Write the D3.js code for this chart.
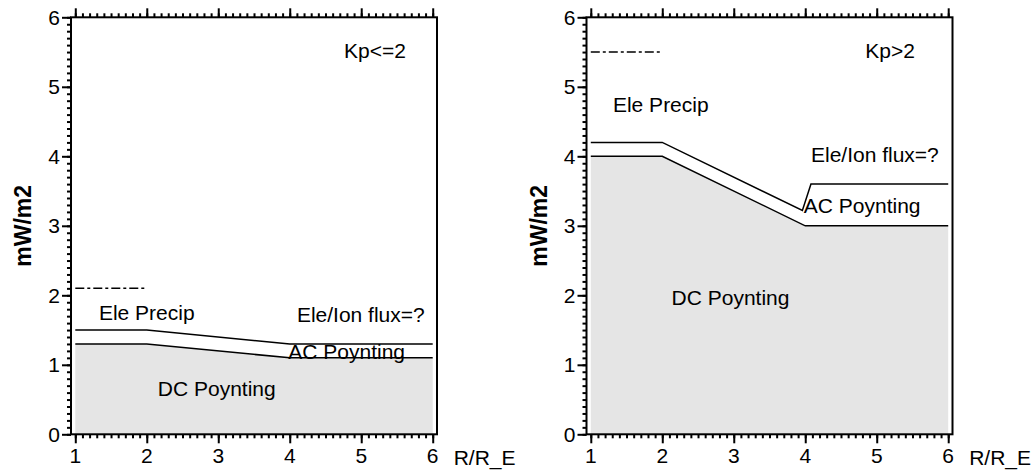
<!DOCTYPE html>
<html>
<head>
<meta charset="utf-8">
<script src="https://cdn.jsdelivr.net/npm/d3@7"></script>
<style>
  body { margin: 0; background: #fff; }
  svg { display: block; font-family: "Liberation Sans", Arial, sans-serif; }
  .axis path { display: none; }
  .axis line { stroke: #000; stroke-width: 2; }
  .curve { fill: none; stroke: #000; stroke-width: 1.5; }
</style>
</head>
<body>
<svg id="chart" width="1035" height="472"></svg>
<script>
var xTicks = [1, 2, 3, 4, 5, 6]
  , yTicks = [0, 1, 2, 3, 4, 5, 6]
  , xMinor = d3.range(10, 61).map(function(d) { return d / 10 })
  , yMinor = d3.range(0, 61).map(function(d) { return d / 10 })
  , xTitle = 'R/R_E'
  , yTitle = 'mW/m2'

// Kp<=2 : boundaries of the energy budget (R/R_E, mW/m2)
var quietDc = [[1, 1.3], [2, 1.3], [4, 1.1], [6, 1.1]]
  , quietAc = [[1, 1.5], [2, 1.5], [4, 1.3], [6, 1.3]]
  , quietPrecip = [[1, 2.1], [2, 2.1]]
  , quietLabels = [
      [4.76, 5.41, 'Kp<=2'],
      [1.33, 1.645, 'Ele Precip'],
      [4.10, 1.61, 'Ele/Ion flux=?'],
      [3.98, 1.09, 'AC Poynting'],
      [2.155, 0.55, 'DC Poynting']
    ]

// Kp>2
var activeDc = [[1, 4.0], [2, 4.0], [4, 3.0], [6, 3.0]]
  , activeAc = [[1, 4.2], [2, 4.2], [3.96, 3.22], [4.08, 3.6], [6, 3.6]]
  , activePrecip = [[1, 5.5], [2, 5.5]]
  , activeLabels = [
      [4.84, 5.41, 'Kp>2'],
      [1.31, 4.64, 'Ele Precip'],
      [4.08, 3.92, 'Ele/Ion flux=?'],
      [3.98, 3.18, 'AC Poynting'],
      [2.13, 1.86, 'DC Poynting']
    ]

var svg = d3.select('svg#chart')
  , width = 366
  , height = 417

var drawPanel = function(left, dc, ac, precip, labels) {
  var g = svg.append('g').attr('transform', 'translate(' + left + ',17.3)')
    , x = d3.scaleLinear().domain([0.94, 6.06]).range([0, width])
    , y = d3.scaleLinear().domain([0, 6]).range([height, 0])
    , line = d3.line().x(function(d) { return x(d[0]) }).y(function(d) { return y(d[1]) })
    , area = d3.area().x(function(d) { return x(d[0]) }).y0(y(0)).y1(function(d) { return y(d[1]) })

  // DC Poynting part is shaded
  g.append('path').datum(dc).attr('d', area).attr('fill', '#e5e5e5')
  g.append('path').datum(dc).attr('class', 'curve').attr('d', line)
  g.append('path').datum(ac).attr('class', 'curve').attr('d', line)
  g.append('path').datum(precip).attr('class', 'curve').attr('d', line)
    .attr('stroke-dasharray', '9,3,3,3')

  // minor then major ticks, no labels on the top axis
  g.append('g').attr('class', 'axis').call(d3.axisTop(x).tickValues(xMinor).tickSize(4).tickFormat(''))
  g.append('g').attr('class', 'axis').call(d3.axisTop(x).tickValues(xTicks).tickSize(9).tickFormat(''))
  g.append('g').attr('class', 'axis').attr('transform', 'translate(0,' + height + ')')
    .call(d3.axisBottom(x).tickValues(xMinor).tickSize(4).tickFormat(''))
  g.append('g').attr('class', 'axis').attr('transform', 'translate(0,' + height + ')')
    .call(d3.axisBottom(x).tickValues(xTicks).tickSize(9).tickFormat(''))
  g.append('g').attr('class', 'axis').call(d3.axisLeft(y).tickValues(yMinor).tickSize(4).tickFormat(''))
  g.append('g').attr('class', 'axis').call(d3.axisLeft(y).tickValues(yTicks).tickSize(9).tickFormat(''))

  g.selectAll('text.xlab').data(xTicks).enter().append('text')
    .attr('x', function(d) { return x(d) }).attr('y', height + 29)
    .attr('text-anchor', 'middle').attr('font-size', 21).text(function(d) { return d })
  g.selectAll('text.ylab').data(yTicks).enter().append('text')
    .attr('x', -11).attr('y', function(d) { return y(d) }).attr('dy', '0.36em')
    .attr('text-anchor', 'end').attr('font-size', 21).text(function(d) { return d })

  g.append('rect').attr('width', width).attr('height', height)
    .attr('fill', 'none').attr('stroke', '#000').attr('stroke-width', 2)

  g.selectAll('text.note').data(labels).enter().append('text')
    .attr('x', function(d) { return x(d[0]) }).attr('y', function(d) { return y(d[1]) })
    .attr('font-size', 21).text(function(d) { return d[2] })

  g.append('text').attr('x', x(6) + 21).attr('y', height + 31)
    .attr('font-size', 21).text(xTitle)
  g.append('text').attr('transform', 'translate(-40,' + (height / 2) + ') rotate(-90)')
    .attr('text-anchor', 'middle').attr('font-size', 23).attr('font-weight', 'bold').text(yTitle)
}

drawPanel(71, quietDc, quietAc, quietPrecip, quietLabels)
drawPanel(586.5, activeDc, activeAc, activePrecip, activeLabels)
</script>
</body>
</html>
